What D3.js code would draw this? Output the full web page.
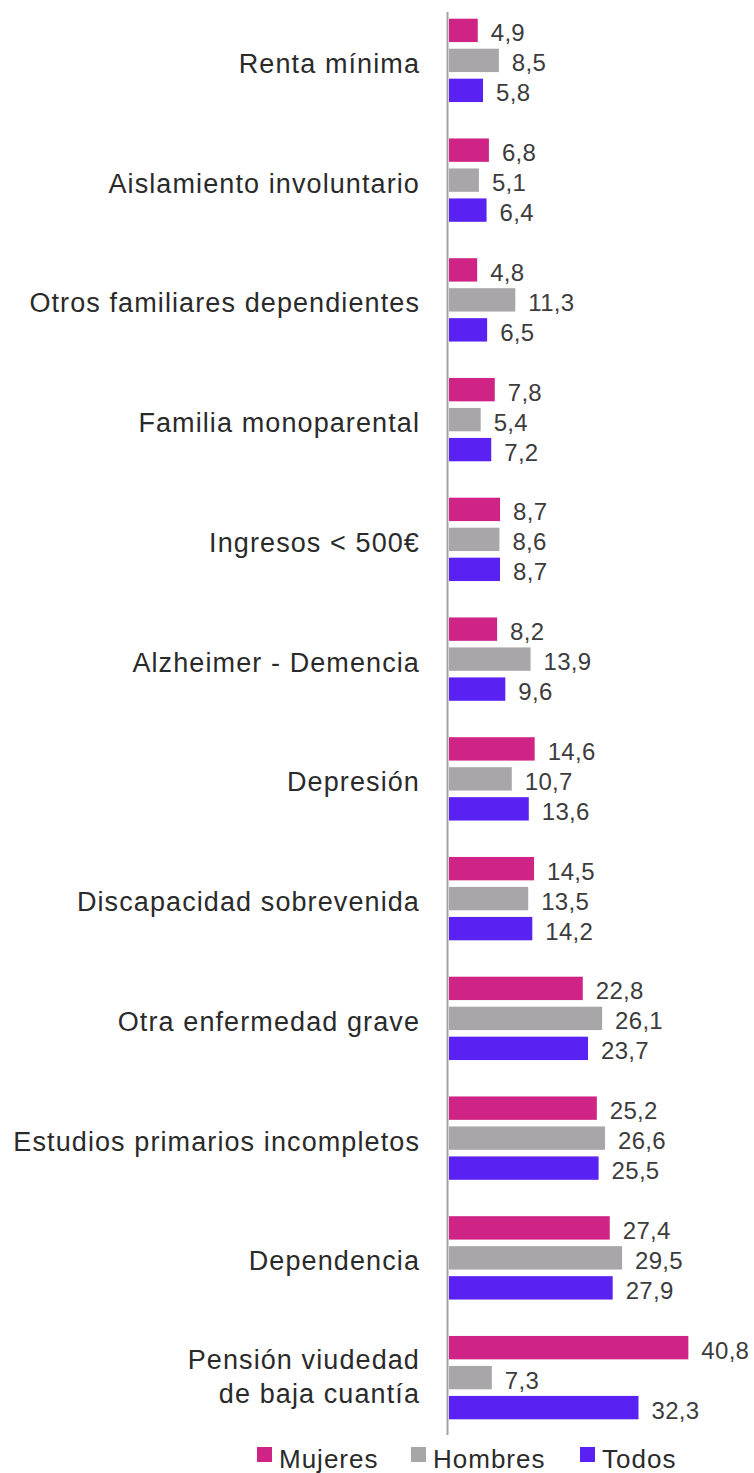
<!DOCTYPE html>
<html>
<head>
<meta charset="utf-8">
<script src="https://cdn.jsdelivr.net/npm/d3@7"></script>
<style>
  html, body { margin: 0; padding: 0; background: #fff; }
  svg { display: block; }
  text { font-family: "Liberation Sans", Arial, Helvetica, sans-serif; }
</style>
</head>
<body>
<svg id="chart" width="754" height="1473"></svg>
<script>
// Factores de riesgo de soledad (% por sexo)
const categories = [
  "Renta mínima",
  "Aislamiento involuntario",
  "Otros familiares dependientes",
  "Familia monoparental",
  "Ingresos < 500€",
  "Alzheimer - Demencia",
  "Depresión",
  "Discapacidad sobrevenida",
  "Otra enfermedad grave",
  "Estudios primarios incompletos",
  "Dependencia",
  "Pensión viudedad\nde baja cuantía"
];
const seriesNames = ["Mujeres", "Hombres", "Todos"];
const mujeres = [4.9, 6.8, 4.8, 7.8, 8.7, 8.2, 14.6, 14.5, 22.8, 25.2, 27.4, 40.8];
const hombres = [8.5, 5.1, 11.3, 5.4, 8.6, 13.9, 10.7, 13.5, 26.1, 26.6, 29.5, 7.3];
const todos   = [5.8, 6.4, 6.5, 7.2, 8.7, 9.6, 13.6, 14.2, 23.7, 25.5, 27.9, 32.3];
const seriesColors = ["#cf2386", "#a8a6a9", "#5a22f2"];

const values = [mujeres, hombres, todos];

const svg = d3.select("#chart");

const x = d3.scaleLinear().domain([0, 45]).range([449, 713]);

const y = d3.scaleBand()
  .domain(categories)
  .range([0.5, 1437.5])
  .paddingInner(0.304)
  .paddingOuter(0.152);

const ySub = d3.scaleBand()
  .domain(seriesNames)
  .range([0, y.bandwidth()])
  .paddingInner(0.22)
  .paddingOuter(0);

const fmt = v => d3.format(".1f")(v).replace(".", ",");

// Groups of bars
const groups = svg.append("g")
  .selectAll("g")
  .data(categories)
  .join("g")
  .attr("transform", d => `translate(0,${y(d)})`);

groups.each(function(cat, i) {
  const g = d3.select(this);
  const rows = seriesNames.map((s, k) => ({ s, k, v: values[k][i] }));
  g.selectAll("rect")
    .data(rows)
    .join("rect")
    .attr("x", x(0))
    .attr("y", d => ySub(d.s))
    .attr("width", d => x(d.v) - x(0))
    .attr("height", ySub.bandwidth())
    .attr("fill", d => seriesColors[d.k]);

  g.selectAll("text.val")
    .data(rows)
    .join("text")
    .attr("class", "val")
    .attr("x", d => x(d.v) + 13)
    .attr("y", d => ySub(d.s) + ySub.bandwidth() / 2 + 11)
    .attr("font-size", 24)
    .attr("letter-spacing", "0.3px")
    .attr("fill", "#3c3c3c")
    .text(d => fmt(d.v));
});

// Category labels
const labels = svg.append("g")
  .selectAll("text")
  .data(categories)
  .join("text")
  .attr("text-anchor", "end")
  .attr("font-size", 27)
  .attr("letter-spacing", "1.1px")
  .attr("fill", "#2a2a2a")
  .attr("y", d => y(d) + y.bandwidth() / 2 + 12.5);

labels.each(function(d) {
  const lines = d.split("\n");
  const t = d3.select(this);
  if (lines.length === 1) {
    t.append("tspan").attr("x", 420).text(lines[0]);
  } else {
    t.append("tspan").attr("x", 420).attr("dy", -21.5).text(lines[0]);
    t.append("tspan").attr("x", 420).attr("dy", 34).text(lines[1]);
  }
});

// Vertical axis line
svg.append("line")
  .attr("x1", 447.5).attr("x2", 447.5)
  .attr("y1", 12).attr("y2", 1435)
  .attr("stroke", "#a3a3a3")
  .attr("stroke-width", 2);

// Legend
const legendX = [257, 411, 580];
const legend = svg.append("g")
  .selectAll("g")
  .data(seriesNames)
  .join("g")
  .attr("transform", (d, i) => `translate(${legendX[i]},1447)`);

legend.append("rect")
  .attr("width", 15).attr("height", 15)
  .attr("fill", (d, i) => seriesColors[i]);

legend.append("text")
  .attr("x", 22)
  .attr("y", 21)
  .attr("font-size", 26)
  .attr("letter-spacing", "1px")
  .attr("fill", "#2a2a2a")
  .text(d => d);
</script>
</body>
</html>
